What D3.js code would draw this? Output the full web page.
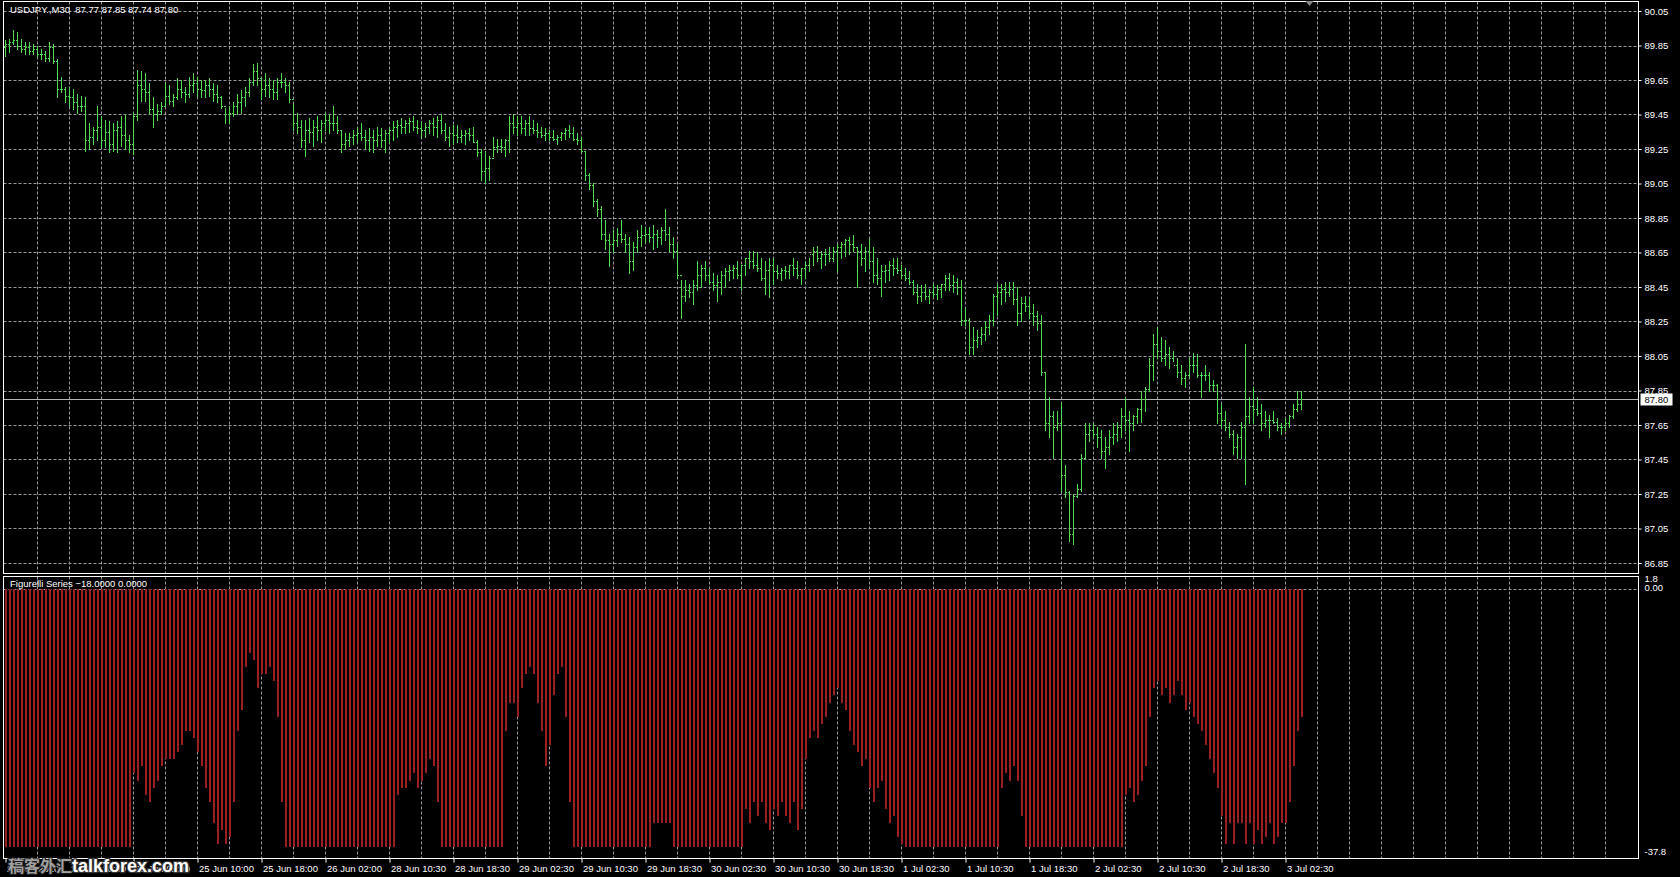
<!DOCTYPE html>
<html>
<head>
<meta charset="utf-8">
<script src="https://cdn.jsdelivr.net/npm/d3@7"></script>
<style>
  body { margin: 0; background: #000; overflow: hidden; }
  text { font-family: "Liberation Sans", Arial, sans-serif; font-size: 9.5px; fill: #fff; }
</style>
</head>
<body>
<div id="chart"></div>
<script>
// USDJPY M30 bars (one entry per bar, oldest first)
var highs = [
  89.88, 89.89, 89.94, 89.93, 89.89, 89.87, 89.87, 89.86, 89.85, 89.83,
  89.82, 89.87, 89.86, 89.77, 89.67, 89.61, 89.61, 89.60, 89.57, 89.56,
  89.55, 89.40, 89.38, 89.50, 89.44, 89.42, 89.41, 89.40, 89.41, 89.44,
  89.45, 89.33, 89.46, 89.71, 89.70, 89.69, 89.63, 89.55, 89.51, 89.52,
  89.63, 89.62, 89.57, 89.66, 89.65, 89.61, 89.67, 89.69, 89.67, 89.65,
  89.65, 89.66, 89.63, 89.62, 89.56, 89.49, 89.50, 89.52, 89.57, 89.59,
  89.61, 89.66, 89.74, 89.75, 89.66, 89.69, 89.66, 89.65, 89.66, 89.69,
  89.66, 89.64, 89.51, 89.46, 89.42, 89.42, 89.43, 89.42, 89.44, 89.42,
  89.46, 89.45, 89.50, 89.44, 89.36, 89.34, 89.34, 89.36, 89.38, 89.40,
  89.36, 89.37, 89.36, 89.38, 89.37, 89.36, 89.38, 89.41, 89.42, 89.43,
  89.42, 89.43, 89.44, 89.42, 89.41, 89.40, 89.42, 89.43, 89.44, 89.45,
  89.40, 89.38, 89.39, 89.39, 89.36, 89.36, 89.37, 89.38, 89.30, 89.25,
  89.24, 89.21, 89.32, 89.31, 89.31, 89.31, 89.44, 89.45, 89.44, 89.44,
  89.42, 89.44, 89.42, 89.40, 89.38, 89.37, 89.36, 89.36, 89.33, 89.35,
  89.37, 89.39, 89.38, 89.34, 89.32, 89.24, 89.11, 89.05, 88.96, 88.92,
  88.84, 88.76, 88.78, 88.79, 88.84, 88.76, 88.74, 88.71, 88.78, 88.81,
  88.80, 88.80, 88.81, 88.78, 88.80, 88.90, 88.80, 88.74, 88.70, 88.49,
  88.49, 88.47, 88.49, 88.60, 88.58, 88.60, 88.56, 88.53, 88.52, 88.54,
  88.56, 88.58, 88.58, 88.60, 88.58, 88.62, 88.66, 88.66, 88.65, 88.62,
  88.60, 88.62, 88.62, 88.58, 88.56, 88.57, 88.58, 88.62, 88.60, 88.56,
  88.60, 88.62, 88.68, 88.69, 88.66, 88.67, 88.68, 88.68, 88.70, 88.71,
  88.73, 88.74, 88.75, 88.68, 88.70, 88.68, 88.73, 88.68, 88.62, 88.58,
  88.58, 88.60, 88.62, 88.62, 88.58, 88.56, 88.54, 88.49, 88.47, 88.46,
  88.47, 88.44, 88.47, 88.46, 88.47, 88.52, 88.53, 88.52, 88.50, 88.49,
  88.33, 88.27, 88.22, 88.20, 88.22, 88.25, 88.29, 88.41, 88.47, 88.47,
  88.48, 88.48, 88.48, 88.45, 88.39, 88.40, 88.39, 88.35, 88.31, 88.29,
  87.96, 87.81, 87.73, 87.73, 87.78, 87.42, 87.27, 87.25, 87.31, 87.48,
  87.66, 87.66, 87.66, 87.64, 87.62, 87.58, 87.62, 87.66, 87.67, 87.75,
  87.81, 87.73, 87.71, 87.75, 87.85, 87.87, 88.04, 88.18, 88.22, 88.16,
  88.14, 88.10, 88.08, 88.04, 88.00, 87.96, 88.04, 88.07, 88.06, 87.96,
  88.00, 87.96, 87.91, 87.89, 87.77, 87.73, 87.67, 87.62, 87.60, 87.67,
  88.12, 87.81, 87.87, 87.81, 87.77, 87.73, 87.71, 87.73, 87.69, 87.66,
  87.69, 87.71, 87.77, 87.85, 87.85
];
var lows = [
  89.79, 89.81, 89.86, 89.83, 89.81, 89.80, 89.80, 89.80, 89.79, 89.77,
  89.76, 89.76, 89.75, 89.55, 89.58, 89.52, 89.50, 89.48, 89.46, 89.47,
  89.24, 89.25, 89.28, 89.30, 89.26, 89.26, 89.23, 89.24, 89.23, 89.27,
  89.25, 89.23, 89.22, 89.42, 89.53, 89.53, 89.46, 89.38, 89.42, 89.45,
  89.50, 89.51, 89.50, 89.54, 89.55, 89.52, 89.55, 89.58, 89.56, 89.55,
  89.55, 89.56, 89.53, 89.52, 89.49, 89.40, 89.40, 89.44, 89.45, 89.46,
  89.50, 89.56, 89.62, 89.62, 89.54, 89.56, 89.55, 89.54, 89.54, 89.61,
  89.58, 89.52, 89.36, 89.34, 89.26, 89.21, 89.29, 89.27, 89.30, 89.29,
  89.36, 89.34, 89.36, 89.34, 89.23, 89.25, 89.27, 89.28, 89.29, 89.30,
  89.25, 89.24, 89.23, 89.27, 89.26, 89.23, 89.29, 89.30, 89.32, 89.34,
  89.34, 89.35, 89.36, 89.34, 89.32, 89.32, 89.34, 89.33, 89.32, 89.34,
  89.30, 89.27, 89.28, 89.29, 89.29, 89.28, 89.30, 89.29, 89.21, 89.07,
  89.05, 89.07, 89.21, 89.23, 89.23, 89.21, 89.23, 89.34, 89.33, 89.34,
  89.33, 89.33, 89.34, 89.32, 89.32, 89.30, 89.30, 89.30, 89.28, 89.30,
  89.31, 89.32, 89.30, 89.28, 89.23, 89.07, 89.02, 88.92, 88.86, 88.73,
  88.67, 88.57, 88.65, 88.69, 88.71, 88.65, 88.53, 88.55, 88.65, 88.69,
  88.71, 88.71, 88.67, 88.68, 88.70, 88.72, 88.66, 88.62, 88.50, 88.27,
  88.37, 88.39, 88.35, 88.43, 88.45, 88.49, 88.47, 88.43, 88.37, 88.41,
  88.45, 88.49, 88.50, 88.50, 88.43, 88.52, 88.56, 88.56, 88.54, 88.49,
  88.41, 88.39, 88.47, 88.50, 88.49, 88.50, 88.50, 88.52, 88.50, 88.47,
  88.50, 88.54, 88.58, 88.60, 88.56, 88.58, 88.60, 88.60, 88.54, 88.62,
  88.63, 88.64, 88.66, 88.45, 88.58, 88.54, 88.56, 88.48, 88.47, 88.40,
  88.48, 88.49, 88.52, 88.53, 88.50, 88.49, 88.47, 88.41, 88.36, 88.37,
  88.38, 88.36, 88.39, 88.38, 88.39, 88.43, 88.43, 88.42, 88.41, 88.23,
  88.23, 88.06, 88.06, 88.10, 88.12, 88.14, 88.18, 88.23, 88.29, 88.35,
  88.37, 88.40, 88.35, 88.23, 88.25, 88.31, 88.27, 88.23, 88.20, 87.94,
  87.62, 87.58, 87.46, 87.62, 87.27, 87.23, 86.98, 86.96, 87.23, 87.27,
  87.46, 87.56, 87.58, 87.52, 87.46, 87.40, 87.48, 87.54, 87.56, 87.58,
  87.62, 87.50, 87.62, 87.66, 87.67, 87.73, 87.85, 87.91, 88.04, 88.02,
  88.00, 87.98, 88.02, 87.93, 87.89, 87.87, 87.93, 87.96, 87.93, 87.81,
  87.91, 87.85, 87.85, 87.66, 87.64, 87.62, 87.58, 87.48, 87.46, 87.46,
  87.31, 87.66, 87.66, 87.71, 87.62, 87.64, 87.58, 87.66, 87.62, 87.60,
  87.62, 87.64, 87.69, 87.73, 87.74
];
var closes = [
  89.86, 89.87, 89.88, 89.85, 89.83, 89.84, 89.82, 89.83, 89.80, 89.80,
  89.78, 89.84, 89.76, 89.60, 89.60, 89.56, 89.55, 89.52, 89.50, 89.50,
  89.30, 89.32, 89.36, 89.38, 89.30, 89.35, 89.28, 89.36, 89.38, 89.33,
  89.30, 89.28, 89.44, 89.62, 89.60, 89.58, 89.48, 89.45, 89.47, 89.50,
  89.56, 89.53, 89.55, 89.60, 89.58, 89.57, 89.62, 89.63, 89.60, 89.59,
  89.62, 89.60, 89.57, 89.55, 89.50, 89.45, 89.46, 89.50, 89.52, 89.55,
  89.58, 89.64, 89.70, 89.66, 89.60, 89.62, 89.60, 89.58, 89.64, 89.64,
  89.62, 89.54, 89.40, 89.38, 89.30, 89.36, 89.35, 89.38, 89.36, 89.40,
  89.42, 89.40, 89.40, 89.36, 89.28, 89.30, 89.32, 89.33, 89.34, 89.32,
  89.30, 89.32, 89.30, 89.33, 89.30, 89.34, 89.36, 89.38, 89.39, 89.38,
  89.40, 89.41, 89.38, 89.37, 89.36, 89.38, 89.40, 89.38, 89.42, 89.36,
  89.32, 89.34, 89.33, 89.32, 89.33, 89.34, 89.33, 89.29, 89.23, 89.12,
  89.14, 89.20, 89.26, 89.27, 89.26, 89.30, 89.40, 89.38, 89.40, 89.37,
  89.40, 89.37, 89.36, 89.35, 89.33, 89.34, 89.32, 89.31, 89.32, 89.34,
  89.36, 89.34, 89.31, 89.30, 89.24, 89.10, 89.04, 88.95, 88.90, 88.76,
  88.72, 88.70, 88.72, 88.76, 88.73, 88.70, 88.60, 88.68, 88.74, 88.75,
  88.76, 88.74, 88.76, 88.74, 88.78, 88.76, 88.70, 88.66, 88.52, 88.40,
  88.43, 88.42, 88.46, 88.52, 88.56, 88.52, 88.48, 88.46, 88.48, 88.52,
  88.54, 88.55, 88.56, 88.52, 88.58, 88.62, 88.60, 88.58, 88.56, 88.50,
  88.55, 88.58, 88.54, 88.53, 88.55, 88.54, 88.58, 88.56, 88.52, 88.56,
  88.58, 88.64, 88.66, 88.62, 88.64, 88.64, 88.62, 88.66, 88.68, 88.70,
  88.72, 88.70, 88.68, 88.66, 88.62, 88.66, 88.60, 88.52, 88.50, 88.54,
  88.55, 88.58, 88.56, 88.55, 88.52, 88.50, 88.48, 88.42, 88.40, 88.42,
  88.40, 88.42, 88.41, 88.44, 88.47, 88.50, 88.46, 88.48, 88.45, 88.26,
  88.26, 88.10, 88.14, 88.16, 88.18, 88.22, 88.26, 88.40, 88.42, 88.44,
  88.42, 88.44, 88.38, 88.30, 88.36, 88.34, 88.30, 88.28, 88.24, 87.96,
  87.66, 87.70, 87.64, 87.66, 87.36, 87.26, 87.02, 87.24, 87.28, 87.46,
  87.60, 87.62, 87.60, 87.58, 87.50, 87.52, 87.58, 87.60, 87.64, 87.70,
  87.68, 87.66, 87.70, 87.74, 87.80, 87.86, 88.00, 88.12, 88.08, 88.04,
  88.06, 88.04, 88.00, 87.96, 87.92, 87.94, 88.00, 88.00, 87.94, 87.94,
  87.94, 87.88, 87.88, 87.72, 87.68, 87.64, 87.60, 87.52, 87.58, 87.64,
  87.70, 87.76, 87.74, 87.72, 87.66, 87.68, 87.68, 87.67, 87.64, 87.64,
  87.66, 87.70, 87.74, 87.77, 87.80
];
var firstOpen = 89.84;

// Figurelli Series histogram, one value per bar
var figurelli = [
  -36.3, -36.3, -36.3, -36.3, -36.3, -36.3, -36.3, -36.3, -36.3, -36.3,
  -36.3, -36.3, -36.3, -36.3, -36.3, -36.3, -36.3, -36.3, -36.3, -36.3,
  -36.3, -36.3, -36.3, -36.3, -36.3, -36.3, -36.3, -36.3, -36.3, -36.3,
  -36.3, -36.3, -26, -27, -25, -29, -30, -28, -27, -25,
  -24, -24, -24, -23, -22, -20, -20, -21, -23, -25,
  -28, -30, -33, -36, -34, -36, -35, -30, -20, -17,
  -11, -9, -10, -14, -12, -12, -11, -13, -18, -30,
  -36.3, -36.3, -36.3, -36.3, -36.3, -36.3, -36.3, -36.3, -36.3, -36.3,
  -36.3, -36.3, -36.3, -36.3, -36.3, -36.3, -36.3, -36.3, -36.3, -36.3,
  -36.3, -36.3, -36.3, -36.3, -36.3, -36.3, -36.3, -36.3, -29, -28,
  -28, -27, -26, -28, -27, -26, -24, -25, -30, -36.3,
  -36.3, -36.3, -36.3, -36.3, -36.3, -36.3, -36.3, -36.3, -36.3, -36.3,
  -36.3, -36.3, -36.3, -36.3, -36.3, -20, -16, -16, -18, -14,
  -12, -11, -12, -16, -20, -25, -22, -15, -12, -11,
  -18, -30, -36.3, -36.3, -36.3, -36.3, -36.3, -36.3, -36.3, -36.3,
  -36.3, -36.3, -36.3, -36.3, -36.3, -36.3, -36.3, -36.3, -36.3, -36.3,
  -36.3, -36.3, -33, -33, -33, -33, -33, -36.3, -36.3, -36.3,
  -36.3, -36.3, -36.3, -36.3, -36.3, -36.3, -36.3, -36.3, -36.3, -36.3,
  -36.3, -36.3, -36.3, -36.3, -36.3, -31, -33, -30, -32, -30,
  -33, -34, -31, -32, -30, -32, -33, -30, -34, -31,
  -24, -21, -20, -21, -19, -18, -16, -15, -14, -16,
  -17, -20, -22, -23, -25, -24, -28, -30, -28, -27,
  -31, -33, -32, -35, -36, -36.3, -36.3, -36.3, -36.3, -36.3,
  -36.3, -36.3, -36.3, -36.3, -36.3, -36.3, -36.3, -36.3, -36.3, -36.3,
  -36.3, -36.3, -36.3, -36.3, -36.3, -36.3, -36.3, -36.3, -36.3, -28,
  -26, -27, -25, -27, -32, -36.3, -36.3, -36.3, -36.3, -36.3,
  -36.3, -36.3, -36.3, -36.3, -36.3, -36.3, -36.3, -36.3, -36.3, -36.3,
  -36.3, -36.3, -36.3, -36.3, -36.3, -36.3, -36.3, -36.3, -36.3, -36.3,
  -29, -28, -30, -29, -27, -25, -18, -14, -13, -15,
  -14, -16, -15, -13, -15, -17, -16, -18, -19, -20,
  -22, -24, -26, -28, -32, -36, -33, -36, -33, -33,
  -36, -33, -36, -34, -36, -35, -33, -36, -35, -33,
  -33, -30, -25, -20, -18
];

var priceTicks = [90.05, 89.85, 89.65, 89.45, 89.25, 89.05, 88.85, 88.65, 88.45, 88.25, 88.05, 87.85, 87.65, 87.45, 87.25, 87.05, 86.85];
var timeLabels = ['24 Jun 2010', '24 Jun 18:00', '25 Jun 02:00', '25 Jun 10:00', '25 Jun 18:00', '26 Jun 02:00',
  '28 Jun 10:30', '28 Jun 18:30', '29 Jun 02:30', '29 Jun 10:30', '29 Jun 18:30', '30 Jun 02:30',
  '30 Jun 10:30', '30 Jun 18:30', '1 Jul 02:30', '1 Jul 10:30', '1 Jul 18:30', '2 Jul 02:30',
  '2 Jul 10:30', '2 Jul 18:30', '3 Jul 02:30'];
var lastQuote = [87.77, 87.85, 87.74, 87.80];
var indicatorBuffers = [-18, 0];
var indRange = [-37.8, 1.8];

var W = 1680, H = 877,
    left = 3.5, right = 1638.5,
    mainTop = 1.5, mainBottom = 573.5,
    subTop = 576.5, subBottom = 858.5;

var svg = d3.select('#chart')
    .append('svg')
    .attr('width', W)
    .attr('height', H)
    .style('display', 'block')
    .style('background', '#000');

// 4px per bar, bar 0 on the left edge
var xScale = d3.scaleLinear()
    .domain([0, 408])
    .range([5.5, 5.5 + 4 * 408]);

var yScale = d3.scaleLinear()
    .domain([86.85, 90.05])
    .range([563, 11]);

var yInd = d3.scaleLinear()
    .domain(indRange)
    .range([857, 576]);

var gridColor = '#9a9a9a';
var gridX = d3.range(8, 404, 8);

// main pane grid
svg.append('g').selectAll('line')
    .data(priceTicks).enter().append('line')
    .attr('x1', left).attr('x2', right)
    .attr('y1', function(d) { return Math.round(yScale(d)) + 0.5; })
    .attr('y2', function(d) { return Math.round(yScale(d)) + 0.5; })
    .attr('stroke', gridColor)
    .attr('stroke-dasharray', '3,2');

svg.append('g').selectAll('line')
    .data(gridX).enter().append('line')
    .attr('x1', function(d) { return xScale(d); })
    .attr('x2', function(d) { return xScale(d); })
    .attr('y1', mainTop).attr('y2', mainBottom)
    .attr('stroke', gridColor)
    .attr('stroke-dasharray', '3,2');

// sub pane grid
svg.append('g').selectAll('line')
    .data(gridX).enter().append('line')
    .attr('x1', function(d) { return xScale(d); })
    .attr('x2', function(d) { return xScale(d); })
    .attr('y1', subTop).attr('y2', subBottom)
    .attr('stroke', gridColor)
    .attr('stroke-dasharray', '3,2');

svg.append('line')
    .attr('x1', left).attr('x2', right)
    .attr('y1', Math.round(yInd(0)) + 0.5)
    .attr('y2', Math.round(yInd(0)) + 0.5)
    .attr('stroke', gridColor)
    .attr('stroke-dasharray', '3,2');

// histogram
svg.append('g')
    .attr('shape-rendering', 'crispEdges')
    .selectAll('rect')
    .data(figurelli).enter().append('rect')
    .attr('x', function(d, i) { return xScale(i) - 0.5; })
    .attr('width', 2)
    .attr('y', function(d) { return Math.round(yInd(Math.max(d, 0))); })
    .attr('height', function(d) { return Math.round(Math.abs(yInd(d) - yInd(0))); })
    .attr('fill', '#9a2020');

// bid line
var bidY = Math.round(yScale(lastQuote[3])) + 0.5;
svg.append('line')
    .attr('x1', left).attr('x2', right)
    .attr('y1', bidY).attr('y2', bidY)
    .attr('stroke', '#b4b4b4');

// OHLC bars
svg.append('g')
    .attr('shape-rendering', 'crispEdges')
    .selectAll('path')
    .data(highs).enter().append('path')
    .attr('d', function(d, i) {
        var x = xScale(i),
            o = i === 0 ? firstOpen : closes[i - 1],
            yo = Math.round(yScale(o)) + 0.5,
            yc = Math.round(yScale(closes[i])) + 0.5;
        return 'M' + x + ',' + Math.round(yScale(highs[i])) + 'V' + (Math.round(yScale(lows[i])) + 1) +
            'M' + (x - 1.5) + ',' + yo + 'H' + x +
            'M' + x + ',' + yc + 'H' + (x + 1.5);
    })
    .attr('fill', 'none')
    .attr('stroke', '#4fdc4f');

// pane frames
svg.append('rect')
    .attr('x', left).attr('y', mainTop)
    .attr('width', right - left).attr('height', mainBottom - mainTop)
    .attr('fill', 'none').attr('stroke', '#fff');

svg.append('rect')
    .attr('x', left).attr('y', subTop)
    .attr('width', right - left).attr('height', subBottom - subTop)
    .attr('fill', 'none').attr('stroke', '#fff');

// price axis
var yAxis = d3.axisRight(yScale)
    .tickValues(priceTicks)
    .tickSize(3)
    .tickPadding(3)
    .tickFormat(d3.format('.2f'));

var ya = svg.append('g')
    .attr('transform', 'translate(' + right + ',0)')
    .call(yAxis);
ya.select('.domain').remove();
ya.selectAll('line').attr('stroke', '#fff');
ya.selectAll('text').attr('fill', '#fff').style('font-size', '9.5px').style('font-family', '"Liberation Sans", Arial, sans-serif');

// bid label
svg.append('rect')
    .attr('x', right + 2).attr('y', bidY - 6)
    .attr('width', 32).attr('height', 12)
    .attr('fill', '#fff');
svg.append('text')
    .attr('x', right + 6).attr('y', bidY)
    .attr('dy', '0.34em')
    .style('fill', '#000')
    .text(d3.format('.2f')(lastQuote[3]));

// indicator scale labels
svg.append('text')
    .attr('x', right + 6).attr('y', yInd(indRange[1]) + 6)
    .text(indRange[1]);
svg.append('text')
    .attr('x', right + 6).attr('y', yInd(0) + 2)
    .text('0.00');
svg.append('text')
    .attr('x', right + 6).attr('y', yInd(indRange[0]) - 2)
    .text(indRange[0]);

// time axis
var xAxis = d3.axisBottom(xScale)
    .tickValues(timeLabels.map(function(d, i) { return i * 16; }))
    .tickSize(4)
    .tickFormat(function(d) { return timeLabels[d / 16]; });

var xa = svg.append('g')
    .attr('transform', 'translate(0,' + subBottom + ')')
    .call(xAxis);
xa.select('.domain').remove();
xa.selectAll('line').attr('stroke', '#fff');
xa.selectAll('text')
    .attr('fill', '#fff')
    .attr('text-anchor', 'start')
    .attr('x', 1)
    .attr('y', 13)
    .attr('dy', 0)
    .style('font-size', '9.5px')
    .style('font-family', '"Liberation Sans", Arial, sans-serif');

// shift marker
var sx = xScale(highs.length + 1);
svg.append('path')
    .attr('d', 'M' + (sx - 4) + ',1L' + (sx + 4) + ',1L' + sx + ',6Z')
    .attr('fill', '#888');

// pane captions
var f2 = d3.format('.2f'), f4 = d3.format('.4f');
svg.append('text')
    .attr('x', 10).attr('y', 13)
    .style('white-space', 'pre')
    .text('USDJPY.,M30  ' + lastQuote.map(f2).join(' '));

svg.append('text')
    .attr('x', 10).attr('y', 587)
    .text('Figurelli Series ' + indicatorBuffers.map(f4).join(' '));

// watermark
svg.append('text')
    .attr('x', 8).attr('y', 872)
    .style('font-family', '"Noto Sans CJK SC", sans-serif')
    .style('font-size', '16px')
    .style('font-weight', 'bold')
    .style('fill', '#a0a0a0')
    .style('stroke', '#1a1a1a')
    .style('stroke-width', '2px')
    .style('paint-order', 'stroke')
    .text('稿客外汇');

svg.append('text')
    .attr('x', 72).attr('y', 872)
    .style('font-size', '18px')
    .style('font-weight', 'bold')
    .style('fill', '#fff')
    .style('stroke', '#333')
    .style('stroke-width', '2.5px')
    .style('paint-order', 'stroke')
    .text('talkforex.com');
</script>
</body>
</html>
